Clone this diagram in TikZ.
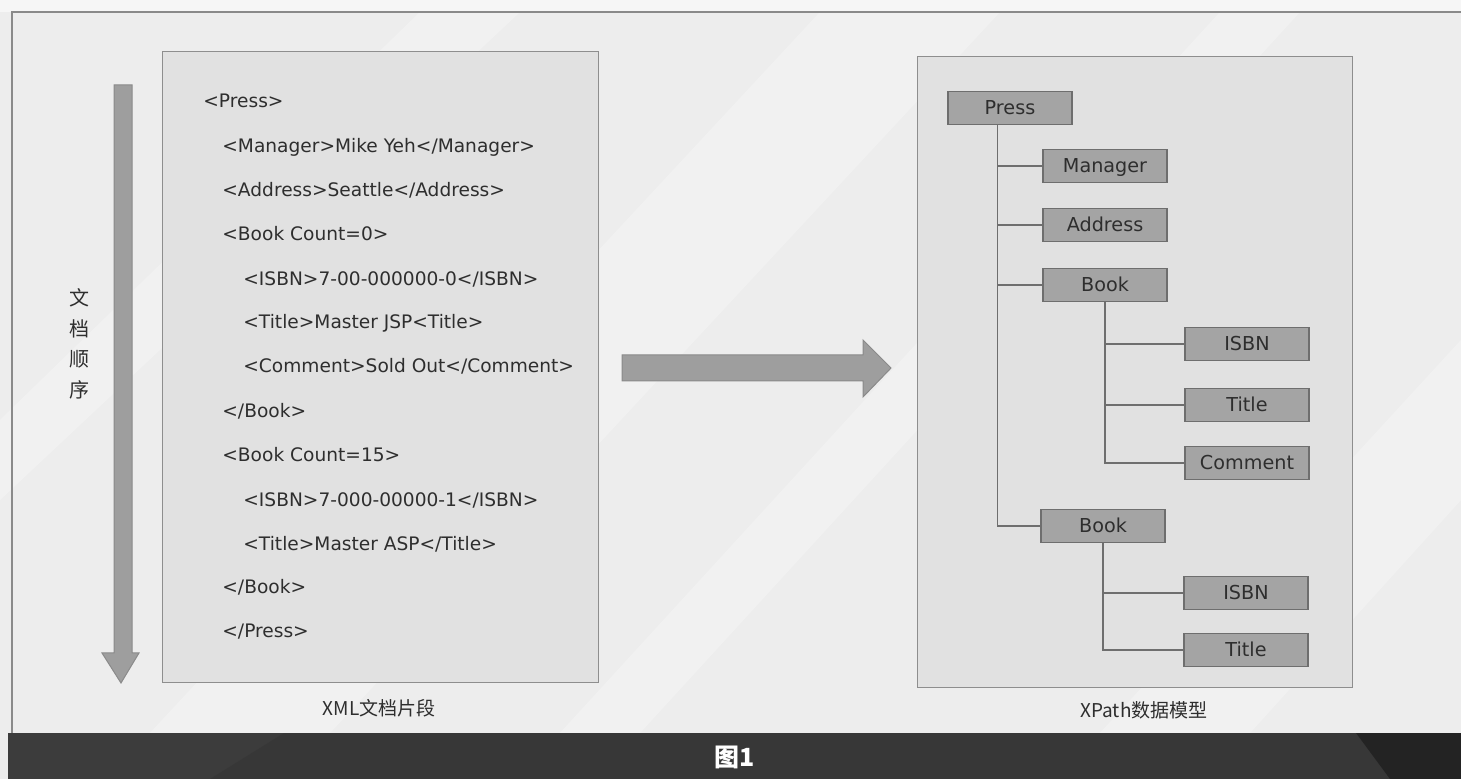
\documentclass[tikz,border=0pt]{standalone}
\usepackage{fontspec}
\setmainfont{DejaVu Sans}
\newfontfamily\cjk{Noto Sans CJK SC}
\usetikzlibrary{calc}
\definecolor{bgc}{HTML}{EDEDED}
\definecolor{framec}{HTML}{8A8A8A}
\definecolor{panelc}{HTML}{E1E1E1}
\definecolor{panelb}{HTML}{8E8E8E}
\definecolor{nodec}{HTML}{A4A4A4}
\definecolor{nodeb}{HTML}{6E6E6E}
\definecolor{arrowc}{HTML}{9E9E9E}
\definecolor{arrowb}{HTML}{8A8A8A}
\definecolor{txtc}{HTML}{2E2E2E}
\definecolor{barc}{HTML}{3C3C3C}
\tikzset{
  x=0.5pt, y=-0.5pt,
  panel/.style={draw=panelb, fill=panelc, line width=0.6pt},
  codeline/.style={anchor=mid west, inner sep=0pt, text=txtc, font=\fontsize{9.3}{11}\selectfont},
  elem/.style={draw=nodeb, fill=nodec, line width=0.7pt, minimum width=62pt, minimum height=16.5pt, inner sep=0pt, text height=7pt, text depth=0pt, text=txtc, font=\fontsize{9.6}{11}\selectfont},
  link/.style={draw=nodeb, line width=0.8pt},
  bigarrow/.style={fill=arrowc, draw=arrowb, line width=0.5pt},
  caption/.style={text=txtc, inner sep=0pt, font=\cjk\fontsize{9.5}{11}\selectfont},
  streak/.style={fill=white, opacity=0.25}
}
\begin{document}
\begin{tikzpicture}
\useasboundingbox (0,0) rectangle (1461,779);
% background
\fill[bgc] (0,0) rectangle (1461,779);
\fill[streak] (150,733) -- (330,733) -- (1000,12) -- (820,12) -- cycle;
\fill[streak] (560,733) -- (640,733) -- (1300,12) -- (1220,12) -- cycle;
\fill[streak] (0,500) -- (0,420) -- (420,12) -- (520,12) -- cycle;
\fill[streak] (1100,733) -- (1250,733) -- (1461,500) -- (1461,340) -- cycle;
\fill[white, opacity=0.5] (0,0) rectangle (1461,12);
% frame
\draw[framec, line width=0.8pt] (12,733) -- (12,12) -- (1461,12);
% bottom bar
\fill[barc] (8,733) rectangle (1461,779);
\fill[black!80, opacity=0.5] (210,779) -- (284,733) -- (1461,733) -- (1461,779) -- cycle;
\fill[black, opacity=0.35] (1356,733) -- (1461,733) -- (1461,779) -- (1390,779) -- cycle;
\node[text=white, inner sep=0pt, font=\cjk\bfseries\fontsize{12.5}{13}\selectfont] (fig) at (735,757) {图1};

% left panel
\node[panel, minimum width=218pt, minimum height=315.5pt, anchor=north west, inner sep=0pt] (xml) at (162,51) {};
\node[codeline] (l1) at (203,102) {<Press>};
\node[codeline] (l2) at (222,147) {<Manager>Mike Yeh</Manager>};
\node[codeline] (l3) at (222,191) {<Address>Seattle</Address>};
\node[codeline] (l4) at (222,235) {<Book Count=0>};
\node[codeline] (l5) at (243,280) {<ISBN>7-00-000000-0</ISBN>};
\node[codeline] (l6) at (243,323) {<Title>Master JSP<Title>};
\node[codeline] (l7) at (243,367) {<Comment>Sold Out</Comment>};
\node[codeline] (l8) at (222,412) {</Book>};
\node[codeline] (l9) at (222,456) {<Book Count=15>};
\node[codeline] (l10) at (243,501) {<ISBN>7-000-00000-1</ISBN>};
\node[codeline] (l11) at (243,545) {<Title>Master ASP</Title>};
\node[codeline] (l12) at (222,588) {</Book>};
\node[codeline] (l13) at (222,632) {</Press>};
\node[caption] (cap1) at (379,708) {XML文档片段};

% vertical order arrow
\draw[bigarrow] (114,85) -- (132,85) -- (132,653) -- (139,653) -- (121,683) -- (102,653) -- (114,653) -- cycle;
\node[caption, align=center, font=\cjk\fontsize{10}{15.3}\selectfont] (order) at (79,344) {文\\档\\顺\\序};

% horizontal arrow
\draw[bigarrow] (622,355) -- (863,355) -- (863,340) -- (891,368) -- (863,397) -- (863,381) -- (622,381) -- cycle;

% right panel
\node[panel, minimum width=217.5pt, minimum height=315.5pt, anchor=north west, inner sep=0pt] (model) at (917,56) {};
\node[elem] (press) at (1010,108) {Press};
\node[elem] (manager) at (1105,166) {Manager};
\node[elem] (address) at (1105,225) {Address};
\node[elem] (book1) at (1105,285) {Book};
\node[elem] (isbn1) at (1247,344) {ISBN};
\node[elem] (title1) at (1247,405) {Title};
\node[elem] (comment) at (1247,463) {Comment};
\node[elem] (book2) at (1103,526) {Book};
\node[elem] (isbn2) at (1246,593) {ISBN};
\node[elem] (title2) at (1246,650) {Title};
\node[caption] (cap2) at (1144,710) {XPath数据模型};

\path (press.south west) ++(50,0) coordinate (pt);
\draw[link] (pt) |- (manager.west);
\draw[link] (pt) |- (address.west);
\draw[link] (pt) |- (book1.west);
\draw[link] (pt) |- (book2.west);
\draw[link] (book1.south) |- (isbn1.west);
\draw[link] (book1.south) |- (title1.west);
\draw[link] (book1.south) |- (comment.west);
\draw[link] (book2.south) |- (isbn2.west);
\draw[link] (book2.south) |- (title2.west);
\end{tikzpicture}
\end{document}
